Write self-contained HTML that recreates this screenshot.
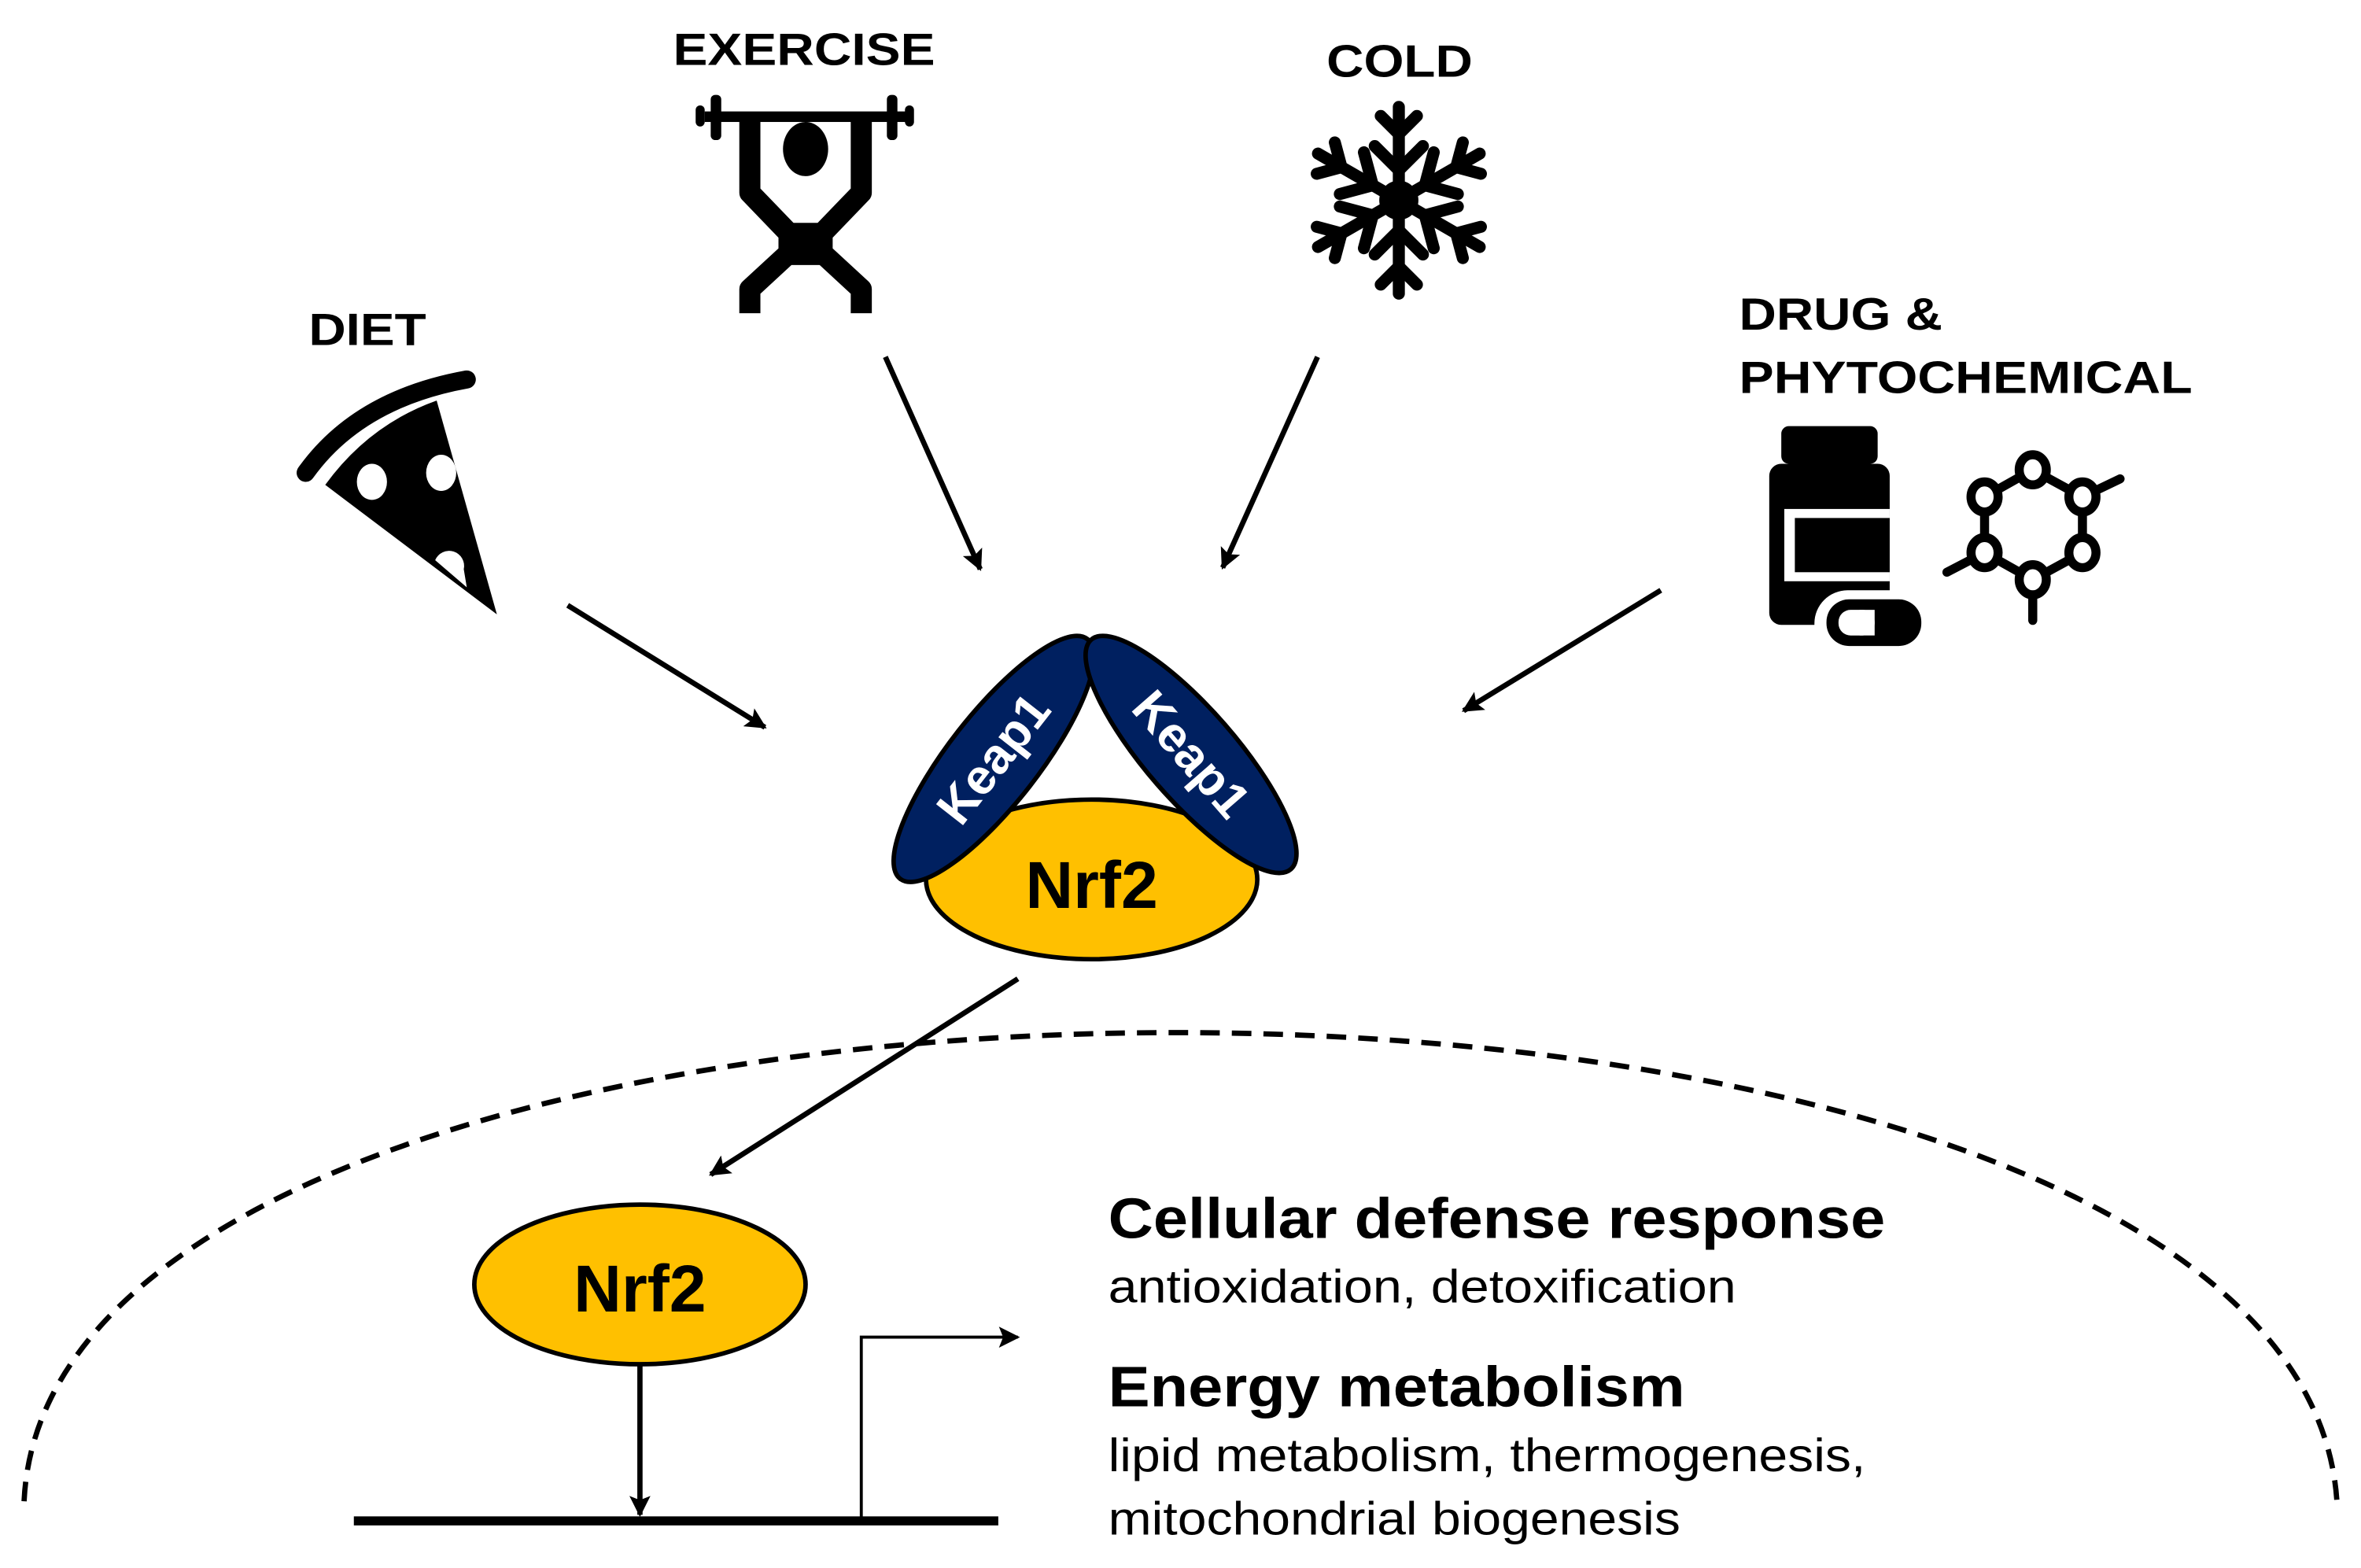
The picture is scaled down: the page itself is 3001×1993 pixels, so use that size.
<!DOCTYPE html>
<html><head><meta charset="utf-8"><style>
html,body{margin:0;padding:0;background:#fff;}
svg{display:block;}
text{font-family:"Liberation Sans",Arial,sans-serif;}
</style></head><body>
<svg width="3001" height="1993" viewBox="0 0 1568 1041.3" preserveAspectRatio="none" xmlns="http://www.w3.org/2000/svg">
<defs>
<marker id="a2" viewBox="0 0 10 10" refX="9" refY="5" markerWidth="16" markerHeight="14" orient="auto" markerUnits="userSpaceOnUse">
<path d="M0,0 L10,5 L0,10 L2,5 Z" fill="#000"/>
</marker>
</defs>

<!-- labels -->
<g font-weight="bold" font-size="30" fill="#000">
<text x="205" y="229" textLength="78" lengthAdjust="spacingAndGlyphs">DIET</text>
<text x="447" y="43" textLength="174" lengthAdjust="spacingAndGlyphs">EXERCISE</text>
<text x="881" y="51" textLength="97" lengthAdjust="spacingAndGlyphs">COLD</text>
<text x="1155" y="219" textLength="135" lengthAdjust="spacingAndGlyphs">DRUG &amp;</text>
<text x="1155" y="261" textLength="301" lengthAdjust="spacingAndGlyphs">PHYTOCHEMICAL</text>
</g>

<!-- pizza -->
<path d="M203,314 Q238,265 310,252" stroke="#000" stroke-width="12" fill="none" stroke-linecap="round"/>
<path d="M216,322 Q245,282 290,266 L330,408 Z" fill="#000"/>
<ellipse cx="247" cy="320" rx="10" ry="12" fill="#fff"/>
<ellipse cx="293" cy="314" rx="10" ry="12" fill="#fff"/>
<path d="M289,372 A10,10 0 0 1 308,378 L310,390 Z" fill="#fff"/>

<!-- weightlifter -->
<g fill="#000" stroke="none">
<rect x="468" y="74" width="136" height="7"/>
<rect x="472" y="63" width="7" height="30" rx="3"/>
<rect x="589" y="63" width="7" height="30" rx="3"/>
<rect x="462" y="70" width="6" height="14" rx="3"/>
<rect x="601" y="70" width="6" height="14" rx="3"/>
<ellipse cx="535" cy="99" rx="15" ry="18"/>
</g>
<path d="M498,80 L498,128 L524,155 L524,168 L498,192 L498,208 M572,80 L572,128 L546,155 L546,168 L572,192 L572,208" stroke="#000" stroke-width="14" fill="none" stroke-linejoin="round"/>
<rect x="520" y="148" width="30" height="28" fill="#000"/>

<!-- snowflake -->
<g stroke="#000" stroke-width="8" stroke-linecap="round" fill="none" transform="translate(929,133)">
<g id="arm">
<line x1="0" y1="0" x2="0" y2="-62"/>
<polyline points="-12,-56 0,-44 12,-56"/>
<polyline points="-16,-36 0,-20 16,-36"/>
</g>
<use href="#arm" transform="rotate(60)"/>
<use href="#arm" transform="rotate(120)"/>
<use href="#arm" transform="rotate(180)"/>
<use href="#arm" transform="rotate(240)"/>
<use href="#arm" transform="rotate(300)"/>
<circle r="9" fill="#000"/>
</g>

<!-- drug bottle -->
<g fill="#000">
<rect x="1183" y="283" width="64" height="25" rx="5"/>
<rect x="1190" y="300" width="50" height="12"/>
<rect x="1175" y="308" width="80" height="107" rx="8"/>
</g>
<rect x="1185" y="338" width="70" height="48" fill="#fff"/>
<rect x="1192" y="344" width="63" height="36" fill="#000"/>
<rect x="1205" y="392" width="80" height="45" rx="22" fill="#fff"/>
<rect x="1213" y="398" width="63" height="31" rx="15" fill="#000"/>
<rect x="1221" y="405" width="24" height="17" rx="8" fill="#fff"/>
<rect x="1235" y="405" width="10" height="17" fill="#fff"/>

<!-- molecule -->
<g stroke="#000" stroke-width="6" fill="#fff" stroke-linecap="round">
<polyline fill="none" points="1350,312 1383,330 1383,367 1350,385 1318,367 1318,330 1350,312"/>
<line x1="1383" y1="330" x2="1408" y2="318"/>
<line x1="1318" y1="367" x2="1293" y2="380"/>
<line x1="1350" y1="385" x2="1350" y2="412"/>
<ellipse cx="1350" cy="312" rx="9" ry="10"/>
<ellipse cx="1383" cy="330" rx="9" ry="10"/>
<ellipse cx="1383" cy="367" rx="9" ry="10"/>
<ellipse cx="1350" cy="385" rx="9" ry="10"/>
<ellipse cx="1318" cy="367" rx="9" ry="10"/>
<ellipse cx="1318" cy="330" rx="9" ry="10"/>
</g>

<!-- arrows -->
<g stroke="#000" stroke-width="3.5" fill="none" marker-end="url(#a2)">
<line x1="377" y1="402" x2="508" y2="483"/>
<line x1="588" y1="237" x2="651" y2="378"/>
<line x1="875" y1="237" x2="812" y2="377"/>
<line x1="1103" y1="392" x2="972" y2="472"/>
<line x1="676" y1="650" x2="472" y2="780"/>
</g>

<!-- dashed nucleus -->
<path d="M16,997 C35,582 1525,582 1552,997" stroke="#000" stroke-width="3.5" fill="none" stroke-dasharray="13,8"/>

<!-- complex -->
<ellipse cx="725" cy="584" rx="110" ry="53" fill="#FFC000" stroke="#000" stroke-width="3"/>
<g transform="translate(660,504) rotate(-52)">
<ellipse rx="101" ry="30" fill="#002060" stroke="#000" stroke-width="3"/>
<text x="0" y="11" text-anchor="middle" font-size="33" font-weight="bold" fill="#fff">Keap1</text>
</g>
<g transform="translate(791,501) rotate(49)">
<ellipse rx="101" ry="30" fill="#002060" stroke="#000" stroke-width="3"/>
<text x="0" y="11" text-anchor="middle" font-size="33" font-weight="bold" fill="#fff">Keap1</text>
</g>
<text x="725" y="603" text-anchor="middle" font-size="44" font-weight="bold">Nrf2</text>

<!-- nuclear Nrf2 -->
<ellipse cx="425" cy="853" rx="110" ry="53" fill="#FFC000" stroke="#000" stroke-width="3"/>
<text x="425" y="871" text-anchor="middle" font-size="44" font-weight="bold">Nrf2</text>
<line x1="425" y1="906" x2="425" y2="1006" stroke="#000" stroke-width="3.5" marker-end="url(#a2)"/>
<line x1="235" y1="1010" x2="663" y2="1010" stroke="#000" stroke-width="6"/>
<polyline points="572,1008 572,888 676,888" stroke="#000" stroke-width="2" fill="none" marker-end="url(#a2)"/>

<!-- text -->
<text x="736" y="822" font-size="38" font-weight="bold" textLength="516" lengthAdjust="spacingAndGlyphs">Cellular defense response</text>
<text x="736" y="865" font-size="31" textLength="417" lengthAdjust="spacingAndGlyphs">antioxidation, detoxification</text>
<text x="736" y="934" font-size="38" font-weight="bold" textLength="383" lengthAdjust="spacingAndGlyphs">Energy metabolism</text>
<text x="736" y="977" font-size="31" textLength="503" lengthAdjust="spacingAndGlyphs">lipid metabolism, thermogenesis,</text>
<text x="736" y="1019" font-size="31" textLength="380" lengthAdjust="spacingAndGlyphs">mitochondrial biogenesis</text>
</svg>
</body></html>
